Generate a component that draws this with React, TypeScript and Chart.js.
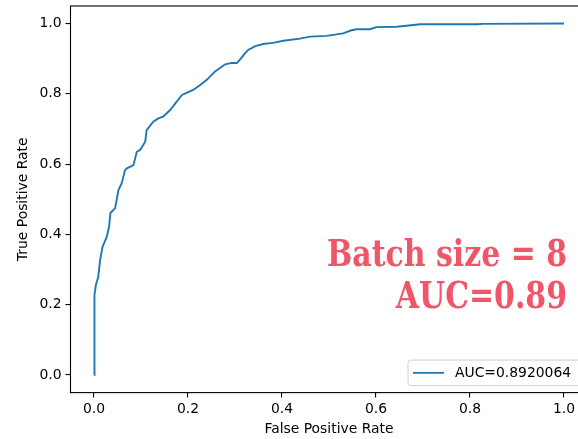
import React, { useEffect, useRef } from "react";
import { Chart, registerables } from "chart.js";

Chart.register(...registerables);

// ROC curve values
const fprValues = [
  0.0, 0.0, 0.002, 0.004, 0.009, 0.013, 0.018, 0.027, 0.032, 0.035, 0.045, 0.052,
  0.059, 0.066, 0.07, 0.084, 0.091, 0.098, 0.109, 0.112, 0.126, 0.137, 0.147, 0.162,
  0.176, 0.187, 0.197, 0.211, 0.226, 0.24, 0.257, 0.279, 0.293, 0.304, 0.311, 0.321,
  0.328, 0.343, 0.36, 0.381, 0.403, 0.438, 0.46, 0.495, 0.53, 0.548, 0.559, 0.587,
  0.601, 0.644, 0.665, 0.694, 0.814, 0.828, 1.0,
];
const tprValues = [
  0.0, 0.105, 0.228, 0.256, 0.279, 0.327, 0.364, 0.393, 0.421, 0.461, 0.475, 0.526,
  0.546, 0.583, 0.588, 0.597, 0.635, 0.64, 0.664, 0.697, 0.721, 0.73, 0.735, 0.754,
  0.778, 0.797, 0.803, 0.811, 0.825, 0.84, 0.863, 0.884, 0.888, 0.888, 0.898, 0.915,
  0.925, 0.936, 0.942, 0.945, 0.951, 0.957, 0.963, 0.965, 0.972, 0.981, 0.984, 0.984,
  0.99, 0.991, 0.994, 0.998, 0.998, 0.999, 1.0,
];
const xTicks = [0, 0.2, 0.4, 0.6, 0.8, 1.0];
const yTicks = [0, 0.2, 0.4, 0.6, 0.8, 1.0];
const seriesLabel = "AUC=0.8920064";
const annotationLines = ["Batch size = 8", "AUC=0.89"];
const xTitle = "False Positive Rate";
const yTitle = "True Positive Rate";

const FONT = "DejaVu Sans";
const FS = 13.9;

const decorPlugin = {
  id: "decor",
  afterDatasetsDraw(chart: any) {
    const { ctx, chartArea: a } = chart;
    ctx.save();
    // axes frame
    ctx.strokeStyle = "#000";
    ctx.lineWidth = 1.1;
    ctx.strokeRect(a.left, a.top, a.right - a.left, a.bottom - a.top);

    // legend (lower right)
    const right = a.right - 3;
    const bottom = a.bottom - 7;
    const h = 25.5;
    const w = 176.5;
    const left = right - w;
    const top = bottom - h;
    ctx.beginPath();
    const r = 3;
    ctx.moveTo(left + r, top);
    ctx.lineTo(right - r, top);
    ctx.quadraticCurveTo(right, top, right, top + r);
    ctx.lineTo(right, bottom - r);
    ctx.quadraticCurveTo(right, bottom, right - r, bottom);
    ctx.lineTo(left + r, bottom);
    ctx.quadraticCurveTo(left, bottom, left, bottom - r);
    ctx.lineTo(left, top + r);
    ctx.quadraticCurveTo(left, top, left + r, top);
    ctx.closePath();
    ctx.fillStyle = "rgba(255,255,255,0.8)";
    ctx.fill();
    ctx.strokeStyle = "#d0d0d0";
    ctx.lineWidth = 1;
    ctx.stroke();
    const cy = top + h / 2;
    ctx.beginPath();
    ctx.moveTo(left + 5, cy);
    ctx.lineTo(left + 36, cy);
    ctx.strokeStyle = "#1f77b4";
    ctx.lineWidth = 1.8;
    ctx.stroke();
    ctx.fillStyle = "#000";
    ctx.font = `${FS}px "${FONT}"`;
    ctx.textAlign = "left";
    ctx.textBaseline = "middle";
    ctx.fillText(chart.data.datasets[0].label, left + 47, cy + 0.5);

    // big annotation
    ctx.fillStyle = "#f0566a";
    ctx.font = 'bold 37px "DejaVu Serif"';
    ctx.textAlign = "right";
    ctx.textBaseline = "alphabetic";
    const w0 = ctx.measureText(annotationLines[0]).width;
    const sx = Math.min(1, 240 / w0);
    annotationLines.forEach((t, i) => {
      ctx.save();
      ctx.translate(567, 266 + i * 42);
      ctx.scale(sx, 1);
      ctx.fillText(t, 0, 0);
      ctx.restore();
    });
    ctx.restore();
  },
};

export default function App() {
  const ref = useRef<HTMLCanvasElement | null>(null);

  useEffect(() => {
    if (!ref.current) return;
    const points = fprValues.map((x, i) => ({ x, y: tprValues[i] }));
    const tickFont = { family: FONT, size: FS };
    const chart = new Chart(ref.current, {
      type: "line",
      data: {
        datasets: [
          {
            label: seriesLabel,
            data: points,
            borderColor: "#1f77b4",
            backgroundColor: "#1f77b4",
            borderWidth: 1.9,
            pointRadius: 0,
            tension: 0,
            fill: false,
          },
        ],
      },
      options: {
        animation: false,
        responsive: false,
        devicePixelRatio: 1,
        layout: { padding: { left: 0, top: 6, right: 12.5, bottom: 0 } },
        plugins: {
          legend: { display: false },
          tooltip: { enabled: false },
        },
        scales: {
          x: {
            type: "linear",
            min: -0.05,
            max: 1.05,
            afterBuildTicks: (s: any) => {
              s.ticks = xTicks.map((v) => ({ value: v }));
            },
            afterFit: (s: any) => {
              s.height = 46.4;
              s.paddingLeft = 0;
              s.paddingRight = 0;
              s.paddingTop = 0;
              s.paddingBottom = 0;
            },
            grid: {
              drawOnChartArea: false,
              drawTicks: true,
              tickLength: 5,
              color: "#000",
              lineWidth: 1.1,
            },
            border: { display: false },
            ticks: {
              padding: 3,
              color: "#000",
              font: tickFont,
              maxRotation: 0,
              autoSkip: false,
              callback: (v: any) => Number(v).toFixed(1),
            },
            title: {
              display: true,
              text: xTitle,
              color: "#000",
              font: tickFont,
              padding: { top: 0, bottom: 1 },
            },
          },
          y: {
            type: "linear",
            min: -0.05,
            max: 1.05,
            afterBuildTicks: (s: any) => {
              s.ticks = yTicks.map((v) => ({ value: v }));
            },
            afterFit: (s: any) => {
              s.width = 70.5;
              s.paddingLeft = 0;
              s.paddingRight = 0;
              s.paddingTop = 0;
              s.paddingBottom = 0;
            },
            grid: {
              drawOnChartArea: false,
              drawTicks: true,
              tickLength: 5,
              color: "#000",
              lineWidth: 1.1,
            },
            border: { display: false },
            ticks: {
              padding: 4,
              color: "#000",
              font: tickFont,
              autoSkip: false,
              callback: (v: any) => Number(v).toFixed(1),
            },
            title: {
              display: true,
              text: yTitle,
              color: "#000",
              font: tickFont,
              padding: { top: 15.5, bottom: 0 },
            },
          },
        },
      },
      plugins: [decorPlugin],
    } as any);
    return () => chart.destroy();
  }, []);

  return (
    <div
      style={{
        position: "fixed",
        left: 0,
        top: 0,
        width: 578,
        height: 439,
        overflow: "hidden",
        background: "#fff",
      }}
    >
      <canvas ref={ref} width={600} height={439} style={{ display: "block" }} />
    </div>
  );
}
